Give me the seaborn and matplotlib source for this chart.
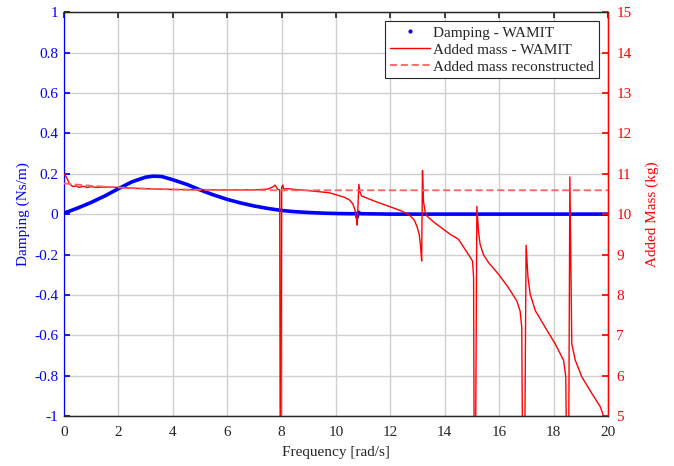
import matplotlib
matplotlib.use("Agg")
import matplotlib.pyplot as plt
from matplotlib.lines import Line2D
import seaborn as sns
import pandas as pd

# ---- data ----
freq_damp = [0.0, 0.5, 1.0, 1.5, 2.0, 2.5, 3.0, 3.3, 3.6, 4.0, 4.5, 5.0, 5.5, 6.0,
             6.5, 7.0, 7.5, 8.0, 8.5, 9.0, 9.5, 10.0, 10.5, 10.75, 10.78, 10.82,
             10.9, 11.5, 12.0, 14.0, 16.0, 18.0, 20.0]
damping = [0.005, 0.03, 0.058, 0.09, 0.126, 0.16, 0.183, 0.188, 0.186, 0.17, 0.148,
           0.12, 0.095, 0.073, 0.055, 0.04, 0.028, 0.018, 0.012, 0.008, 0.005, 0.003,
           0.002, 0.002, -0.015, 0.01, 0.002, 0.001, 0.0, 0.0, 0.0, 0.0, 0.0]

freq_am = [0.0, 0.1, 0.2, 0.33, 0.45, 0.55, 0.7, 0.85, 1.0, 1.2, 1.5, 2.0, 2.5, 3.0,
           3.5, 4.0, 5.0, 6.0, 7.0, 7.5, 7.7, 7.76, 7.85, 7.93, 7.96, 8.0, 8.04,
           8.08, 8.2, 9.0, 9.75, 10.0, 10.3, 10.5, 10.62, 10.7, 10.75, 10.78,
           10.84, 10.88, 10.94, 11.2, 11.5, 12.0, 12.4, 12.7, 12.88, 12.98, 13.06,
           13.11, 13.15, 13.18, 13.22, 13.28, 13.35, 13.6, 13.9, 14.2, 14.5, 14.87,
           15.02, 15.06, 15.1, 15.18, 15.24, 15.3, 15.42, 15.61, 15.98, 16.34,
           16.65, 16.77, 16.83, 16.9, 16.99, 17.06, 17.14, 17.33, 17.69, 18.06,
           18.37, 18.45, 18.53, 18.6, 18.67, 18.8, 19.04, 19.41, 19.72, 19.84, 20.0]
added_mass = [11.0, 10.9, 10.75, 10.68, 10.7, 10.66, 10.69, 10.66, 10.68, 10.66, 10.67,
              10.66, 10.64, 10.63, 10.62, 10.61, 10.6, 10.6, 10.6, 10.62, 10.68, 10.72,
              10.62, 10.6, 0.0, 10.66, 10.72, 10.62, 10.63, 10.58, 10.53, 10.48, 10.42,
              10.35, 10.25, 10.1, 9.9, 9.73, 10.74, 10.55, 10.45, 10.38, 10.3, 10.18,
              10.08, 9.98, 9.85, 9.69, 9.5, 9.2, 8.84, 11.08, 10.3, 10.05, 9.95, 9.8,
              9.65, 9.5, 9.38, 9.0, 8.84, 8.43, 0.0, 10.19, 9.57, 9.25, 9.0, 8.8, 8.51,
              8.18, 7.85, 7.6, 7.2, 0.0, 9.23, 8.43, 8.02, 7.61, 7.2, 6.79, 6.38, 5.97,
              0.0, 10.92, 6.79, 6.38, 5.97, 5.56, 5.23, 5.0, 4.8]

freq_rec = [0.0, 1.0, 2.0, 3.0, 4.0, 6.0, 8.0, 20.0]
added_mass_rec = [10.76, 10.7, 10.66, 10.63, 10.61, 10.6, 10.59, 10.59]

x_ticks = [0, 2, 4, 6, 8, 10, 12, 14, 16, 18, 20]
left_ticks = [-1, -0.8, -0.6, -0.4, -0.2, 0, 0.2, 0.4, 0.6, 0.8, 1]
left_labels = ["-1", "-0.8", "-0.6", "-0.4", "-0.2", "0", "0.2", "0.4", "0.6", "0.8", "1"]
right_ticks = [5, 6, 7, 8, 9, 10, 11, 12, 13, 14, 15]

# ---- style ----
sns.set_theme(style="white")
plt.rcParams["font.family"] = ["Liberation Serif", "DejaVu Serif"]
plt.rcParams["font.size"] = 11

BLUE = "#0000ff"
RED = "#ff0000"
DARK = "#262626"
GRID = "#cfcfcf"
RED_LIGHT = "#ff6060"

fig = plt.figure(figsize=(6.74, 4.66), dpi=100)
ax = fig.add_axes([0.095, 0.107, 0.807, 0.867])
ax2 = ax.twinx()

df_d = pd.DataFrame({"freq": freq_damp, "damping": damping})
df_a = pd.DataFrame({"freq": freq_am, "am": added_mass})
df_r = pd.DataFrame({"freq": freq_rec, "am": added_mass_rec})

sns.lineplot(data=df_d, x="freq", y="damping", ax=ax, color=BLUE, lw=2.6,
             estimator=None, sort=False, legend=False)
sns.lineplot(data=df_a, x="freq", y="am", ax=ax2, color=RED, lw=1.0,
             estimator=None, sort=False, legend=False)
sns.lineplot(data=df_r, x="freq", y="am", ax=ax2, color=RED_LIGHT, lw=1.3,
             estimator=None, sort=False, legend=False)
ax2.lines[-1].set_dashes((4, 2))

ax.set_xlim(0, 20)
ax.set_ylim(-1, 1)
ax2.set_ylim(5, 15)
ax.set_xticks(x_ticks)
ax.set_xticklabels([str(t) for t in x_ticks])
ax.set_yticks(left_ticks)
ax.set_yticklabels(left_labels)
ax2.set_yticks(right_ticks)
ax2.set_yticklabels([str(t) for t in right_ticks])

ax.grid(True, color=GRID, lw=1.0)
ax2.grid(False)
ax.set_axisbelow(True)

ax.set_xlabel("Frequency [rad/s]", color=DARK, fontsize=11, labelpad=5)
ax.set_ylabel("Damping (Ns/m)", color=BLUE, fontsize=11, labelpad=3)
ax2.set_ylabel("Added Mass (kg)", color=RED, fontsize=11, labelpad=10)

ax.tick_params(axis="x", direction="in", length=4, colors=DARK, labelsize=11,
               top=True, pad=7)
ax.tick_params(axis="y", direction="in", length=4, colors=BLUE, labelsize=11,
               right=False, pad=4)
ax2.tick_params(axis="y", direction="in", length=4, colors=RED, labelsize=11, pad=6)

for a in (ax, ax2):
    for s in a.spines.values():
        s.set_linewidth(0.9)
ax.spines["bottom"].set_color(DARK)
ax.spines["top"].set_color(DARK)
ax.spines["left"].set_color(BLUE)
ax2.spines["left"].set_visible(False)
ax2.spines["right"].set_color(RED)
ax2.spines["top"].set_color(DARK)
ax2.spines["bottom"].set_color(DARK)

handles = [
    Line2D([], [], color=BLUE, marker=".", ls="none", markersize=4),
    Line2D([], [], color=RED, lw=1.0),
    Line2D([], [], color=RED_LIGHT, lw=1.3, dashes=(4, 2)),
]
labels = ["Damping - WAMIT", "Added mass - WAMIT", "Added mass reconstructed"]
leg = ax2.legend(handles, labels, loc="upper right", fontsize=11, frameon=True,
                 fancybox=False, framealpha=1, edgecolor=DARK, borderpad=0.3,
                 handlelength=2.6, handletextpad=0.25, labelspacing=0.22,
                 borderaxespad=0.6)
leg.get_frame().set_linewidth(0.8)

fig.savefig("out.png", dpi=100)
